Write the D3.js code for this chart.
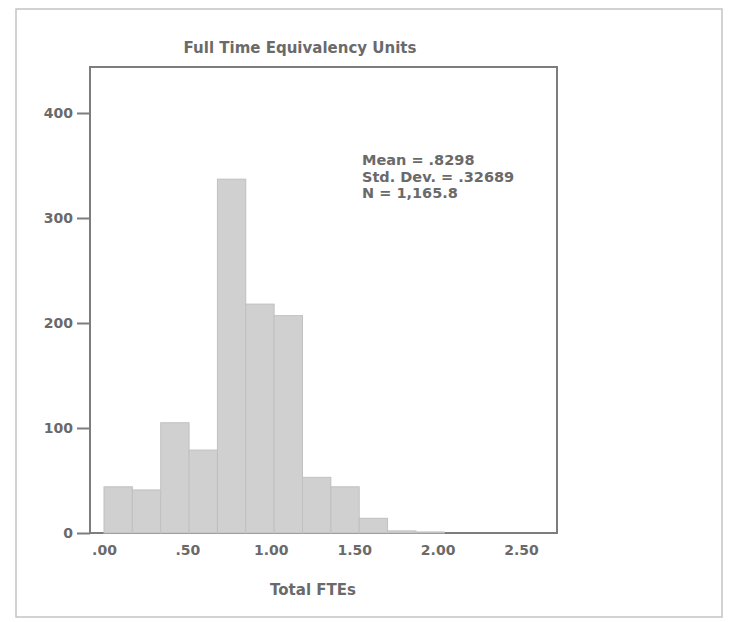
<!DOCTYPE html>
<html>
<head>
<meta charset="utf-8">
<script src="https://cdn.jsdelivr.net/npm/d3@7"></script>
<style>
  body { margin: 0; background: #fff; }
  text { font-family: "DejaVu Sans", sans-serif; font-weight: bold; fill: #6a6a6a; }
</style>
</head>
<body>
<div class="chart"></div>
<script>
// histogram bins (lower edge, width .17) and counts
const binLower = [0, .17, .34, .51, .68, .85, 1.02, 1.19, 1.36, 1.53, 1.70, 1.87];
const binWidth = .17;
const counts = [44, 41, 105, 79, 337, 218, 207, 53, 44, 14, 2, 1];
const xTicks = [0, .5, 1, 1.5, 2, 2.5];
const yTicks = [0, 100, 200, 300, 400];
const stats = ["Mean = .8298", "Std. Dev. = .32689", "N = 1,165.8"];

const W = 736, H = 622;
const frame = {left: 90, top: 67, right: 557, bottom: 533};

const svg = d3.select(".chart").append("svg")
    .attr("width", W)
    .attr("height", H);

// scanned page border
svg.append("rect")
    .attr("x", 16).attr("y", 9)
    .attr("width", 706).attr("height", 608)
    .attr("fill", "none")
    .attr("stroke", "#c4c4c4")
    .attr("stroke-width", 1.5);

const xScale = d3.scaleLinear()
    .domain([0, 2.5])
    .range([104, 521]);

const yScale = d3.scaleLinear()
    .domain([0, 400])
    .range([frame.bottom, 113]);

// frame
svg.append("rect")
    .attr("x", frame.left).attr("y", frame.top)
    .attr("width", frame.right - frame.left)
    .attr("height", frame.bottom - frame.top)
    .attr("fill", "none")
    .attr("stroke", "#7d7d7d")
    .attr("stroke-width", 2);

// bars
svg.append("g")
    .selectAll("rect")
    .data(counts)
    .enter()
    .append("rect")
      .attr("x", (d, i) => xScale(binLower[i]))
      .attr("y", d => yScale(d))
      .attr("width", (d, i) => xScale(binLower[i] + binWidth) - xScale(binLower[i]))
      .attr("height", d => yScale(0) - yScale(d))
      .attr("fill", "#d0d0d0")
      .attr("stroke", "#c0c0c0")
      .attr("stroke-width", 1);

const yAxis = d3.axisLeft(yScale)
    .tickValues(yTicks)
    .tickSize(13)
    .tickPadding(4)
    .tickFormat(d3.format("d"));

svg.append("g")
    .attr("class", "axis y-axis")
    .attr("transform", `translate(${frame.left},0)`)
    .call(yAxis)
    .call(g => g.select(".domain").remove())
    .call(g => g.selectAll(".tick line").attr("stroke", "#7d7d7d").attr("stroke-width", 2))
    .call(g => g.selectAll(".tick text")
        .attr("font-size", 14)
        .attr("font-family", null)
        .attr("fill", null));

const xAxis = d3.axisBottom(xScale)
    .tickValues(xTicks)
    .tickSize(0)
    .tickPadding(12)
    .tickFormat(d => d3.format(".2f")(d).replace(/^0/, ""));

svg.append("g")
    .attr("class", "axis x-axis")
    .attr("transform", `translate(0,${frame.bottom})`)
    .call(xAxis)
    .call(g => g.select(".domain").remove())
    .call(g => g.selectAll(".tick text")
        .attr("font-size", 14)
        .attr("font-family", null)
        .attr("fill", null));

svg.append("text")
    .attr("x", 300)
    .attr("y", 53)
    .attr("text-anchor", "middle")
    .attr("font-size", 15)
    .text("Full Time Equivalency Units");

svg.append("text")
    .attr("x", 313)
    .attr("y", 595)
    .attr("text-anchor", "middle")
    .attr("font-size", 15)
    .text("Total FTEs");

svg.append("g")
    .selectAll("text")
    .data(stats)
    .enter()
    .append("text")
      .attr("x", 362)
      .attr("y", (d, i) => 165 + i * 16.5)
      .attr("font-size", 14.5)
      .text(d => d);
</script>
</body>
</html>
